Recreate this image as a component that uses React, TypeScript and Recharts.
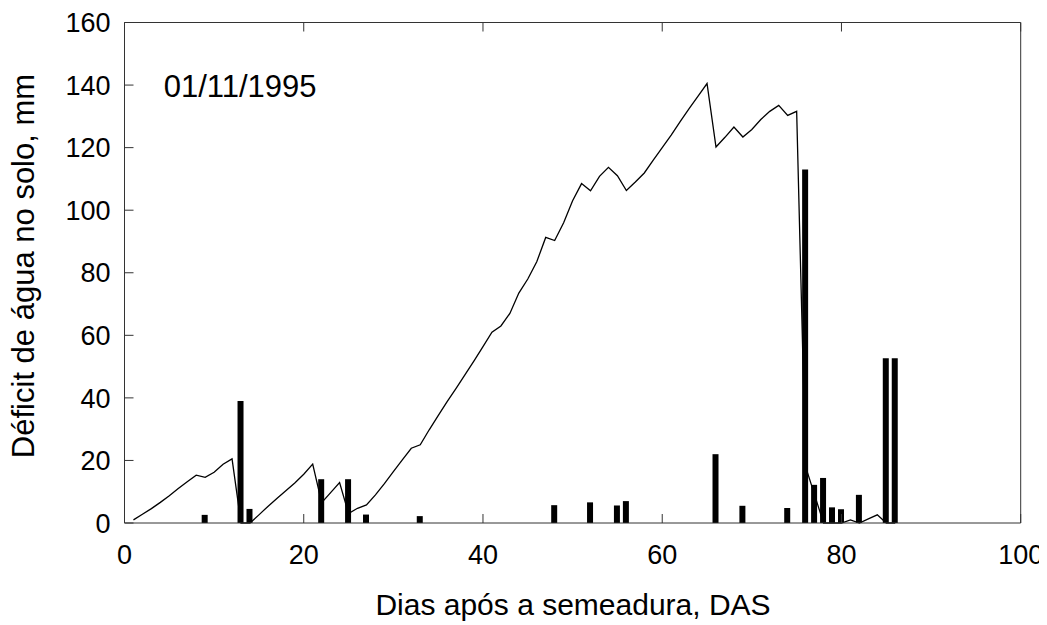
import React from 'react';
import { ComposedChart, Bar, Line, XAxis, YAxis } from 'recharts';

// Days after sowing (DAS)
const days: number[] = [
  1, 2, 3, 4, 5, 6, 7, 8, 9, 10, 11, 12, 13, 14, 15, 16, 17, 18, 19, 20,
  21, 22, 23, 24, 25, 26, 27, 28, 29, 30, 31, 32, 33, 34, 35, 36, 37, 38, 39, 40,
  41, 42, 43, 44, 45, 46, 47, 48, 49, 50, 51, 52, 53, 54, 55, 56, 57, 58, 59, 60,
  61, 62, 63, 64, 65, 66, 67, 68, 69, 70, 71, 72, 73, 74, 75, 76, 77, 78, 79, 80,
  81, 82, 83, 84, 85, 86,
];

// Soil water deficit (mm), one value per day
const deficit: number[] = [
  1, 2.8, 4.6, 6.6, 8.7, 11, 13.2, 15.3, 14.6, 16.2, 18.8, 20.5, 0, 0, 2.6, 5.3, 7.8, 10.3, 12.8, 15.6,
  18.8, 6.5, 9.7, 12.9, 3, 4.7, 5.8, 9, 12.6, 16.4, 20.2, 23.9, 25, 29.8, 34.3, 38.8, 43, 47.4, 51.8, 56.4,
  61, 63, 67, 73.5, 78, 83.5, 91.3, 90.3, 96, 103, 108.5, 106.2, 110.8, 113.7, 111, 106.3, 109, 111.9, 116, 120,
  124, 128.3, 132.5, 136.5, 140.5, 120.2, 123.3, 126.6, 123.4, 125.8, 129, 131.6, 133.5, 130.3, 131.6, 18, 9, 0, 0, 0,
  1, 0, 1.3, 2.6, 0, 0,
];

// Rain / irrigation events (mm)
const rainDays: number[] = [9, 13, 14, 22, 25, 27, 33, 48, 52, 55, 56, 66, 69, 74, 76, 77, 78, 79, 80, 82, 85, 86];
const rainAmounts: number[] = [2.6, 39, 4.5, 14, 14, 2.7, 2.2, 5.7, 6.6, 5.6, 7, 22, 5.5, 4.8, 113, 12.2, 14.4, 5, 4.4, 9, 52.7, 52.7];

const xTicks: number[] = [0, 20, 40, 60, 80, 100];
const yTicks: number[] = [0, 20, 40, 60, 80, 100, 120, 140, 160];

const dateLabel = '01/11/1995';
const xTitle = 'Dias após a semeadura, DAS';
const yTitle = 'Déficit de água no solo, mm';

const rainByDay = new Map<number, number>();
rainDays.forEach((d, i) => rainByDay.set(d, rainAmounts[i]));

const data = days.map((d, i) => ({
  day: d,
  deficit: deficit[i],
  rain: rainByDay.has(d) ? rainByDay.get(d) : null,
}));

const W = 1039;
const H = 617;
const FONT = '"Liberation Sans", Arial, Helvetica, sans-serif';
const TICK_FONT = 27;
const TITLE_FONT = 30;
const AXIS_COLOR = '#333';
const TICK_LEN = 9;
const Y_LABEL_GAP = 14;
const X_LABEL_GAP = 22;

const LeftTick = (props: any) => {
  const { x, y, payload } = props;
  const ax = x + Y_LABEL_GAP;
  return (
    <g>
      <line x1={ax} x2={ax + TICK_LEN} y1={y} y2={y} stroke={AXIS_COLOR} strokeWidth={1} />
      <text x={x} y={y} dy="0.36em" textAnchor="end" fontFamily={FONT} fontSize={TICK_FONT} fill="#000">
        {payload.value}
      </text>
    </g>
  );
};

const RightTick = (props: any) => {
  const { x, y } = props;
  return <line x1={x} x2={x - TICK_LEN} y1={y} y2={y} stroke={AXIS_COLOR} strokeWidth={1} />;
};

const BottomTick = (props: any) => {
  const { x, y, payload } = props;
  const ay = y - X_LABEL_GAP;
  return (
    <g>
      <line x1={x} x2={x} y1={ay} y2={ay - TICK_LEN} stroke={AXIS_COLOR} strokeWidth={1} />
      <text x={x} y={y} dy="0.71em" textAnchor="middle" fontFamily={FONT} fontSize={TICK_FONT} fill="#000">
        {payload.value}
      </text>
    </g>
  );
};

const TopTick = (props: any) => {
  const { x, y } = props;
  return <line x1={x} x2={x} y1={y} y2={y + TICK_LEN} stroke={AXIS_COLOR} strokeWidth={1} />;
};

export default function App() {
  return (
    <div style={{ position: 'relative', width: W, height: H, background: '#fff' }}>
      <ComposedChart
        width={W}
        height={H}
        data={data}
        margin={{ top: 13.5, right: 25.3, bottom: 0, left: 0.5 }}
        style={{ overflow: 'visible' }}
      >
        <XAxis
          xAxisId="bottom"
          dataKey="day"
          type="number"
          domain={[0, 100]}
          ticks={xTicks}
          interval={0}
          height={102}
          tickSize={0}
          tickMargin={X_LABEL_GAP}
          tickLine={false}
          axisLine={{ stroke: AXIS_COLOR, strokeWidth: 1 }}
          tick={(p: any) => <BottomTick {...p} />}
        />
        <XAxis
          xAxisId="top"
          orientation="top"
          dataKey="day"
          type="number"
          domain={[0, 100]}
          ticks={xTicks}
          interval={0}
          height={1}
          tickSize={0}
          tickMargin={0}
          tickLine={false}
          axisLine={{ stroke: AXIS_COLOR, strokeWidth: 1 }}
          tick={(p: any) => <TopTick {...p} />}
        />
        <YAxis
          yAxisId="left"
          type="number"
          domain={[0, 160]}
          ticks={yTicks}
          interval={0}
          width={116}
          tickSize={0}
          tickMargin={Y_LABEL_GAP}
          tickLine={false}
          axisLine={{ stroke: AXIS_COLOR, strokeWidth: 1 }}
          tick={(p: any) => <LeftTick {...p} />}
        />
        <YAxis
          yAxisId="right"
          orientation="right"
          type="number"
          domain={[0, 160]}
          ticks={yTicks}
          interval={0}
          width={1}
          tickSize={0}
          tickMargin={0}
          tickLine={false}
          axisLine={{ stroke: AXIS_COLOR, strokeWidth: 1 }}
          tick={(p: any) => <RightTick {...p} />}
        />
        <Bar
          xAxisId="bottom"
          yAxisId="left"
          dataKey="rain"
          fill="#000"
          barSize={6}
          isAnimationActive={false}
        />
        <Line
          xAxisId="bottom"
          yAxisId="left"
          dataKey="deficit"
          type="linear"
          stroke="#000"
          strokeWidth={1.3}
          dot={false}
          activeDot={false}
          isAnimationActive={false}
        />
      </ComposedChart>
      <svg
        width={W}
        height={H}
        style={{ position: 'absolute', left: 0, top: 0, pointerEvents: 'none', overflow: 'visible' }}
      >
        <text x={155.7} y={88.7} fontFamily={FONT} fontSize={31} fill="#000">
          {dateLabel}
        </text>
        <text x={565} y={606.5} textAnchor="middle" fontFamily={FONT} fontSize={TITLE_FONT} fill="#000">
          {xTitle}
        </text>
        <text
          transform="translate(25.8, 258) rotate(-90)"
          textAnchor="middle"
          fontFamily={FONT}
          fontSize={31}
          fill="#000"
        >
          {yTitle}
        </text>
      </svg>
    </div>
  );
}
